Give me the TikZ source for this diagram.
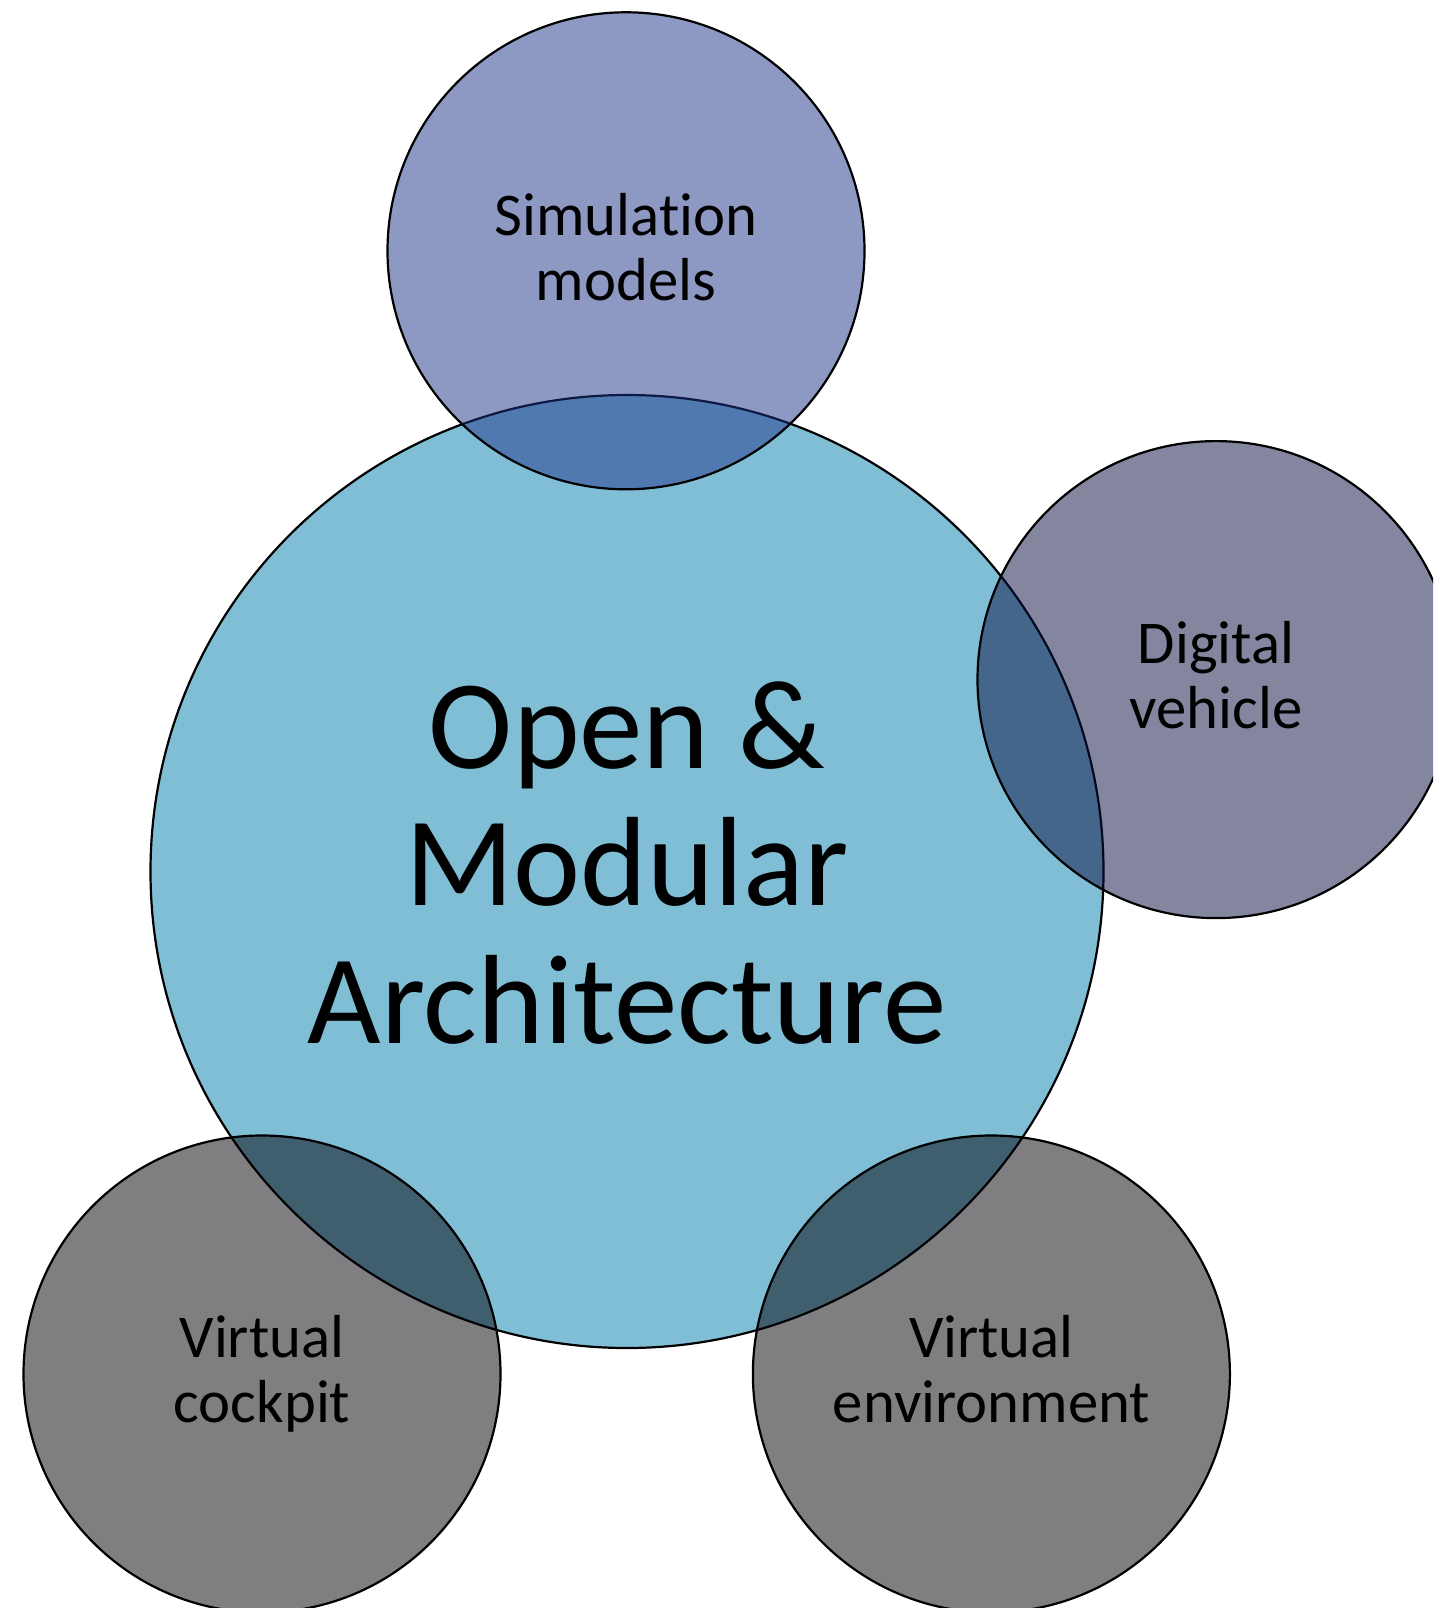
\documentclass[tikz,border=0pt]{standalone}
\usepackage{fontspec}
\setmainfont{Carlito}[Ligatures={NoCommon,NoRare,NoDiscretionary}]
\definecolor{hubblue}{RGB}{128,190,214}
\definecolor{simtint}{RGB}{31,53,137}
\definecolor{vehtint}{RGB}{11,15,65}
\definecolor{greytint}{RGB}{1,1,7}
\begin{document}
\begin{tikzpicture}[x=1pt,y=-1pt,
  hub/.style={circle, draw=black, line width=2.2pt, fill=hubblue,
    minimum size=953pt, inner sep=0pt},
  satellite/.style={circle, draw=black, line width=2.2pt, fill=#1,
    fill opacity=0.5, draw opacity=1, minimum size=477pt, inner sep=0pt},
  smalllabel/.style={font=\fontsize{60.7}{65}\selectfont, inner sep=0pt, anchor=base},
  mainlabel/.style={font=\fontsize{127}{137.5}\selectfont, inner sep=0pt, anchor=base}]
\useasboundingbox (0,0) rectangle (1433,1608);
\fill[white] (0,0) rectangle (1433,1608);
\clip (0,0) rectangle (1433,1608);

% central circle
\node[hub] (core) at (627,871.5) {};

% surrounding translucent circles
\node[satellite=simtint]  (sim) at (626,250.8) {};
\node[satellite=vehtint]  (veh) at (1216,679.6) {};
\node[satellite=greytint] (cockpit) at (262,1374) {};
\node[satellite=greytint] (env) at (991.4,1374) {};

% labels
\node[mainlabel] (coretext) at (627,768)
  {\begin{tabular}[t]{@{}c@{}}Open \&\\Modular\\Architecture\end{tabular}};
\node[smalllabel] (simtext) at (626,235)
  {\begin{tabular}[t]{@{}c@{}}Simulation\\models\end{tabular}};
\node[smalllabel] (vehtext) at (1216,663.5)
  {\begin{tabular}[t]{@{}c@{}}Digital\\vehicle\end{tabular}};
\node[smalllabel] (cockpittext) at (262,1357.5)
  {\begin{tabular}[t]{@{}c@{}}Virtual\\cockpit\end{tabular}};
\node[smalllabel] (envtext) at (991.4,1357.5)
  {\begin{tabular}[t]{@{}c@{}}Virtual\\environment\end{tabular}};
\end{tikzpicture}
\end{document}
